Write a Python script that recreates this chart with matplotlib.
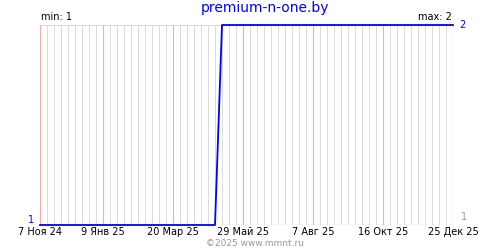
import datetime as dt
import matplotlib
matplotlib.use("Agg")
import matplotlib.pyplot as plt
import matplotlib.dates as mdates
from matplotlib.ticker import FixedLocator

# data: weekly series, only the change points are needed
dates = [dt.date(2024, 11, 7), dt.date(2025, 5, 1), dt.date(2025, 5, 8), dt.date(2025, 12, 25)]
values = [1, 1, 2, 2]

tick_dates = [dt.date(2024, 11, 7), dt.date(2025, 1, 9), dt.date(2025, 3, 20),
              dt.date(2025, 5, 29), dt.date(2025, 8, 7), dt.date(2025, 10, 16),
              dt.date(2025, 12, 25)]
tick_labels = ["7 Ноя 24", "9 Янв 25", "20 Мар 25", "29 Май 25",
               "7 Авг 25", "16 Окт 25", "25 Дек 25"]

title = "premium-n-one.by"
y_min, y_max = 1, 2

fig = plt.figure(figsize=(5, 2.5), dpi=100)
ax = fig.add_axes([0.08, 0.1, 0.826, 0.8])

ax.set_xlim(tick_dates[0], tick_dates[-1])
ax.set_ylim(y_min, y_max)

# weekly gray lines, red at the labelled dates (drawn on top of the grid)
ax.xaxis.set_minor_locator(mdates.WeekdayLocator(byweekday=mdates.TH))
ax.xaxis.set_major_locator(FixedLocator(mdates.date2num(tick_dates)))
ax.set_xticklabels(tick_labels, fontsize=7)
ax.grid(which="minor", axis="x", color="#dcdcdc", lw=0.72, snap=True)
ax.grid(which="major", visible=False)
ax.vlines(mdates.date2num(tick_dates), y_min, y_max, colors="#ffa8a8",
          lw=0.8, zorder=4)
ax.tick_params(which="both", length=0, pad=1.5)
ax.set_yticks([])

for s in ["left", "right", "bottom"]:
    ax.spines[s].set_visible(False)
ax.spines["top"].set_color("#dcdcdc")
ax.axhline(y_min, color="#dcdcdc", lw=1)

ax.plot(dates, values, color="#0000ff", lw=1.3, clip_on=False, zorder=5)

fig.text(0.53, 0.968, title, color="#0000ff", fontsize=10, ha="center", va="center")
ax.text(0.003, 1.015, "min: 1", transform=ax.transAxes, fontsize=7, va="bottom", ha="left")
ax.text(0.998, 1.015, "max: 2", transform=ax.transAxes, fontsize=7, va="bottom", ha="right")
ax.text(-0.015, 0.0, "1", transform=ax.transAxes, fontsize=7, color="#0000ff", ha="right", va="bottom")
ax.text(1.015, 1.0, "2", transform=ax.transAxes, fontsize=7, color="#0000ff", ha="left", va="center")
ax.text(1.02, 0.04, "1", transform=ax.transAxes, fontsize=7, color="#999999", ha="left", va="center")
fig.text(0.51, 0.024, "©2025 www.mmnt.ru", color="#999999", fontsize=6.5, ha="center", va="center")

fig.savefig("out.png", dpi=100)
